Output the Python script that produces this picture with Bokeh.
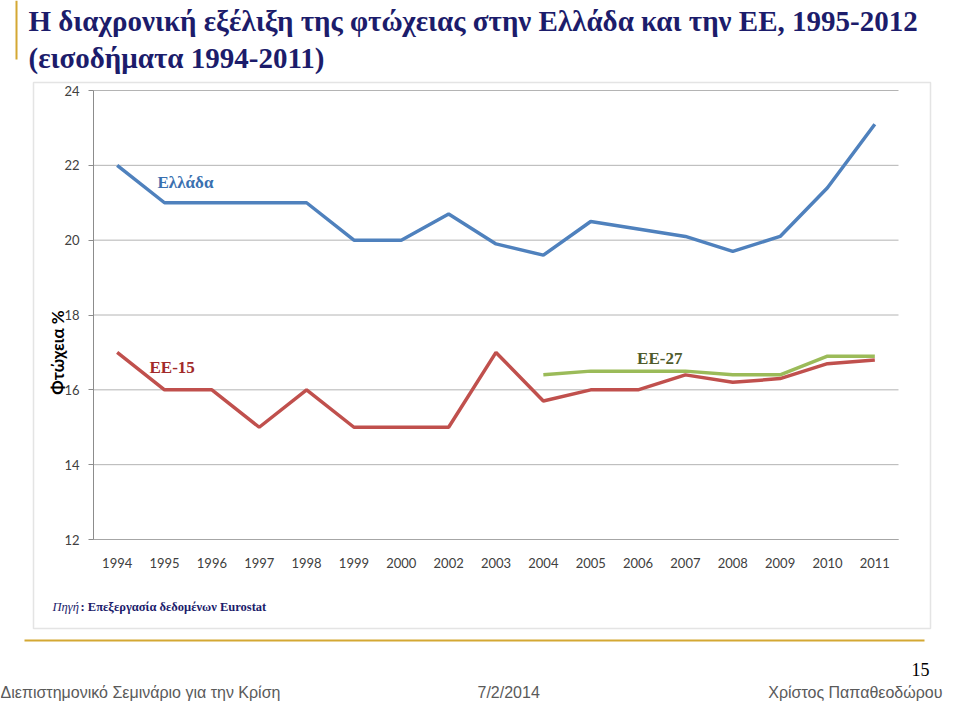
from bokeh.plotting import figure
from bokeh.models import (ColumnDataSource, Range1d, FixedTicker, LinearAxis,
                          Label, BoxAnnotation)
from bokeh.core.properties import value
from bokeh.embed import file_html
from bokeh.resources import INLINE

# ---------------- data ----------------
years = ["1994", "1995", "1996", "1997", "1998", "1999", "2000", "2002", "2003",
         "2004", "2005", "2006", "2007", "2008", "2009", "2010", "2011"]
greece = [22.0, 21.0, 21.0, 21.0, 21.0, 20.0, 20.0, 20.7, 19.9,
          19.6, 20.5, 20.3, 20.1, 19.7, 20.1, 21.4, 23.1]
eu15 = [17.0, 16.0, 16.0, 15.0, 16.0, 15.0, 15.0, 15.0, 17.0,
        15.7, 16.0, 16.0, 16.4, 16.2, 16.3, 16.7, 16.8]
eu27_years = ["2004", "2005", "2006", "2007", "2008", "2009", "2010", "2011"]
eu27 = [16.4, 16.5, 16.5, 16.5, 16.4, 16.4, 16.9, 16.9]
y_ticks = [12, 14, 16, 18, 20, 22, 24]

title_1 = "Η διαχρονική εξέλιξη της φτώχειας στην Ελλάδα και την ΕΕ,  1995-2012"
title_2 = "(εισοδήματα 1994-2011)"
y_label = "Φτώχεια %"
source_a = "Πηγή"
source_b = ": Επεξεργασία δεδομένων Eurostat"
footer_left = "Διεπιστημονικό Σεμινάριο για την Κρίση"
footer_mid = "7/2/2014"
footer_right = "Χρίστος Παπαθεοδώρου"
page_no = "15"

# ---------------- layout (pixels) ----------------
W, H = 944, 704
PL, PR, PT, PB = 93, 898, 90, 539          # chart plot area inside the canvas
n = len(years)
idx = list(range(n))
cw = (PR - PL) / n
x_start = -0.5 - PL / cw
x_end = x_start + W / cw
ymin, ymax = min(y_ticks), max(y_ticks)
ys = (PB - PT) / (ymax - ymin)
y_end = ymax + PT / ys
y_start = ymin - (H - PB) / ys

p = figure(width=W, height=H, x_range=Range1d(x_start, x_end),
           y_range=Range1d(y_start, y_end),
           x_axis_location=None, y_axis_location=None,
           output_backend="svg", toolbar_location=None,
           min_border=0, min_border_left=0, min_border_right=0,
           min_border_top=0, min_border_bottom=0)
p.grid.visible = False
p.background_fill_color = "white"
p.border_fill_color = "white"
p.outline_line_color = None

GREY_TXT = "#404040"

# horizontal grid limited to the plot area
p.segment(x0=[-0.5] * len(y_ticks), x1=[n - 0.5] * len(y_ticks), y0=y_ticks, y1=y_ticks,
          line_color="#b4b4b4", line_width=1)

yax = LinearAxis(fixed_location=-0.5, ticker=FixedTicker(ticks=y_ticks), bounds=(ymin, ymax))
yax.axis_line_color = "#8c8c8c"
yax.major_tick_line_color = "#8c8c8c"
yax.major_tick_out = 5
yax.major_tick_in = 0
yax.minor_tick_line_color = None
yax.major_label_standoff = 9
yax.major_label_text_font = "Lato"
yax.major_label_text_font_size = "13px"
yax.major_label_text_color = GREY_TXT
p.add_layout(yax, "left")

xax = LinearAxis(fixed_location=ymin, ticker=FixedTicker(ticks=idx), bounds=(-0.5, n - 0.5),
                 major_label_overrides={i: y for i, y in zip(idx, years)})
xax.axis_line_color = "#a6a6a6"
xax.major_tick_line_color = None
xax.minor_tick_line_color = None
xax.major_label_standoff = 12
xax.major_label_text_font = "Lato"
xax.major_label_text_font_size = "13px"
xax.major_label_text_color = GREY_TXT
p.add_layout(xax, "below")

src = ColumnDataSource(dict(x=idx, gr=greece, eu15=eu15))
src27 = ColumnDataSource(dict(x=[years.index(y) for y in eu27_years], v=eu27))
p.line("x", "gr", source=src, line_color="#4f81bd", line_width=3.5)
p.line("x", "eu15", source=src, line_color="#c0504d", line_width=3.5)
p.line("x", "v", source=src27, line_color="#9bbb59", line_width=3.5)

# series labels
p.text(x=[years.index("1995")], y=[21.55], text=["Ελλάδα"], x_offset=-7,
       text_font=value("Liberation Serif"), text_font_style="bold",
       text_font_size="17px", text_color="#3a70b0", text_baseline="middle")
p.text(x=[years.index("1995")], y=[16.6], text=["ΕΕ-15"], x_offset=-15,
       text_font=value("Liberation Serif"), text_font_style="bold",
       text_font_size="17px", text_color="#a22a2a", text_baseline="middle")
p.text(x=[years.index("2006")], y=[16.83], text=["ΕΕ-27"], x_offset=-1,
       text_font=value("Liberation Serif"), text_font_style="bold",
       text_font_size="17px", text_color="#4f5b2c", text_baseline="middle")

# ---------------- slide decorations ----------------
GOLD = "#d4a833"
def box(l, r, t, b, **kw):
    p.add_layout(BoxAnnotation(left=l, right=r, top=t, bottom=b,
                               left_units="canvas", right_units="canvas",
                               top_units="canvas", bottom_units="canvas", **kw))

box(15, 17, 0, 59, fill_color=GOLD, fill_alpha=1, line_color=None)
box(24, 924, 639, 641, fill_color=GOLD, fill_alpha=1, line_color=None)
box(33, 930, 82, 628, fill_color=None, line_color="#a6a6a6", line_width=1.5)

def lab(x, y, t, size, color, font="Liberation Serif", style="normal",
        align="left", angle=0):
    p.add_layout(Label(x=x, y=y, x_units="canvas", y_units="canvas", text=t,
                       text_font=font, text_font_size=size, text_color=color,
                       text_font_style=style, text_align=align,
                       text_baseline="middle", angle=angle))

NAVY = "#1c1c6b"
lab(28, 20, title_1, "29px", NAVY, style="bold")
lab(28, 57, title_2, "29px", NAVY, style="bold")
lab(57, 352, y_label, "17px", "#000000", font="Lato", style="bold", align="center",
    angle=1.5708)
lab(52, 606, source_a, "12.5px", NAVY, style="italic")
lab(80, 606, source_b, "12.5px", NAVY, style="bold")
lab(0, 692, footer_left, "16px", "#5a5a5a", font="Liberation Sans")
lab(477, 692, footer_mid, "16px", "#5a5a5a", font="Liberation Sans")
lab(942, 692, footer_right, "16px", "#5a5a5a", font="Liberation Sans", align="right")
lab(929, 669, page_no, "18px", "#000000", align="right")

open("out.html", "w").write(file_html(p, INLINE))
